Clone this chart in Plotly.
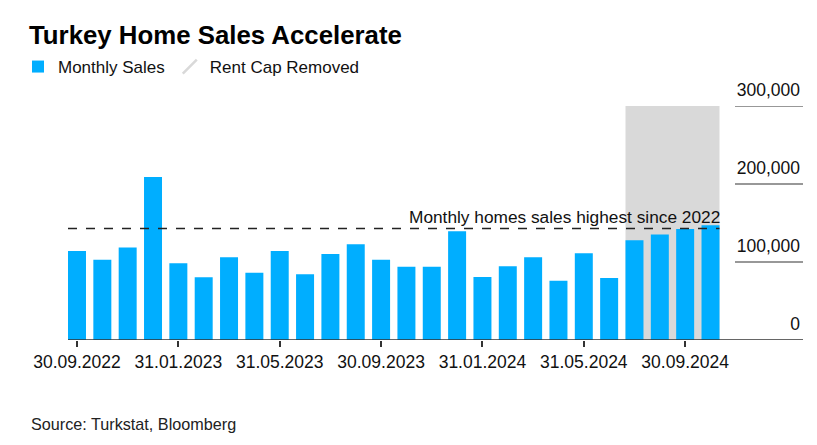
import plotly.graph_objects as go

months = ["30.09.2022","31.10.2022","30.11.2022","31.12.2022","31.01.2023","28.02.2023",
          "31.03.2023","30.04.2023","31.05.2023","30.06.2023","31.07.2023","31.08.2023",
          "30.09.2023","31.10.2023","30.11.2023","31.12.2023","31.01.2024","29.02.2024",
          "31.03.2024","30.04.2024","31.05.2024","30.06.2024","31.07.2024","31.08.2024",
          "30.09.2024","31.10.2024"]
sales = [114000, 103000, 118500, 209000, 98300, 80300, 106000, 86300, 114000, 84200,
         110300, 122600, 103000, 94000, 94000, 139300, 80800, 94400, 106000, 76100,
         111100, 79500, 128000, 135300, 142400, 147200]
tick_labels = ["30.09.2022", "31.01.2023", "31.05.2023", "30.09.2023",
               "31.01.2024", "31.05.2024", "30.09.2024"]
y_ticks = [0, 100000, 200000, 300000]
y_tick_text = ["0", "100,000", "200,000", "300,000"]
highlight_value = 143000
rent_cap_start = "31.07.2024"

BLUE = "#00AEFF"
GREY = "#D9D9D9"
FONT = "Liberation Sans, Arial, sans-serif"

W, H = 817, 445
ML, MR, MT, MB = 68, 14, 106, 105
PW, PH = W - ML - MR, H - MT - MB

n = len(months)
idx = list(range(n))
bw = 0.71
tick_idx = [months.index(t) for t in tick_labels]
rc = months.index(rent_cap_start)

fig = go.Figure()
fig.add_trace(go.Bar(x=idx, y=sales, marker=dict(color=BLUE, line=dict(width=0)),
                     width=bw, name="Monthly Sales"))
fig.add_trace(go.Scatter(x=[None], y=[None], mode="markers", name="Rent Cap Removed",
                         marker=dict(symbol="line-ne", size=14,
                                     line=dict(color=GREY, width=2.5))))

# shaded rent-cap region
fig.add_shape(type="rect", xref="x", yref="y", x0=rc - bw / 2, x1=n - 1 + bw / 2,
              y0=0, y1=y_ticks[-1], fillcolor=GREY, line=dict(width=0), layer="below")
# dashed reference line
fig.add_shape(type="line", xref="x", yref="y", x0=-bw / 2, x1=n - 1 + bw / 2,
              y0=highlight_value, y1=highlight_value,
              line=dict(color="#222222", width=1.5, dash="dash"), layer="above")
fig.add_annotation(x=n - 1 + bw / 2, y=highlight_value, xref="x", yref="y",
                   text="Monthly homes sales highest since 2022", showarrow=False,
                   xanchor="right", yanchor="bottom", xshift=2, yshift=-1,
                   font=dict(family=FONT, size=17.3, color="#111111"))
# baseline
fig.add_shape(type="line", xref="paper", yref="y", x0=0, x1=1, y0=0, y1=0,
              line=dict(color="#333333", width=1.5), layer="above")
# short right-side gridlines
for v in y_ticks[1:]:
    fig.add_shape(type="line", xref="paper", yref="y", x0=(735 - ML) / PW, x1=1.0, y0=v, y1=v,
                  line=dict(color="#333333", width=1.2))

fig.add_annotation(text="Source: Turkstat, Bloomberg", xref="paper", yref="paper",
                   x=(31 - ML) / PW, y=(H - MB - 424) / PH, xanchor="left", yanchor="middle",
                   showarrow=False, xshift=-2,
                   font=dict(family=FONT, size=16.2, color="#222222"))

fig.update_layout(
    width=W, height=H,
    margin=dict(l=ML, r=MR, t=MT, b=MB, autoexpand=False),
    paper_bgcolor="white", plot_bgcolor="white",
    title=dict(text="<b>Turkey Home Sales Accelerate</b>", xref="container", yref="container",
               x=29 / W, y=1 - 35 / H, xanchor="left", yanchor="middle",
               font=dict(family=FONT, size=25.8, color="#000000")),
    legend=dict(orientation="h", xref="container", yref="container", x=18 / W,
                y=1 - 49 / H, xanchor="left", yanchor="top",
                font=dict(family=FONT, size=17, color="#111111"),
                itemwidth=30, tracegroupgap=0, bgcolor="rgba(0,0,0,0)"),
    showlegend=True,
    bargap=0.29,
    xaxis=dict(range=[-bw / 2, 28.65], tickmode="array", tickvals=tick_idx,
               ticktext=tick_labels, showgrid=False, zeroline=False,
               showline=False,
               ticks="outside", ticklen=6, tickcolor="#333333", tickwidth=1.5,
               tickfont=dict(family=FONT, size=17.5, color="#111111")),
    yaxis=dict(range=[0, y_ticks[-1]], side="right", tickmode="array", tickvals=y_ticks,
               ticktext=y_tick_text, ticklabelposition="inside top", ticklabeloverflow="allow",
               ticklabelshift=-4,
               showgrid=False, zeroline=False, showline=False, ticks="",
               tickfont=dict(family=FONT, size=17.5, color="#111111")),
)

fig.write_html("out.html", config={"displayModeBar": False},
               post_script="document.body.style.margin='0';")
